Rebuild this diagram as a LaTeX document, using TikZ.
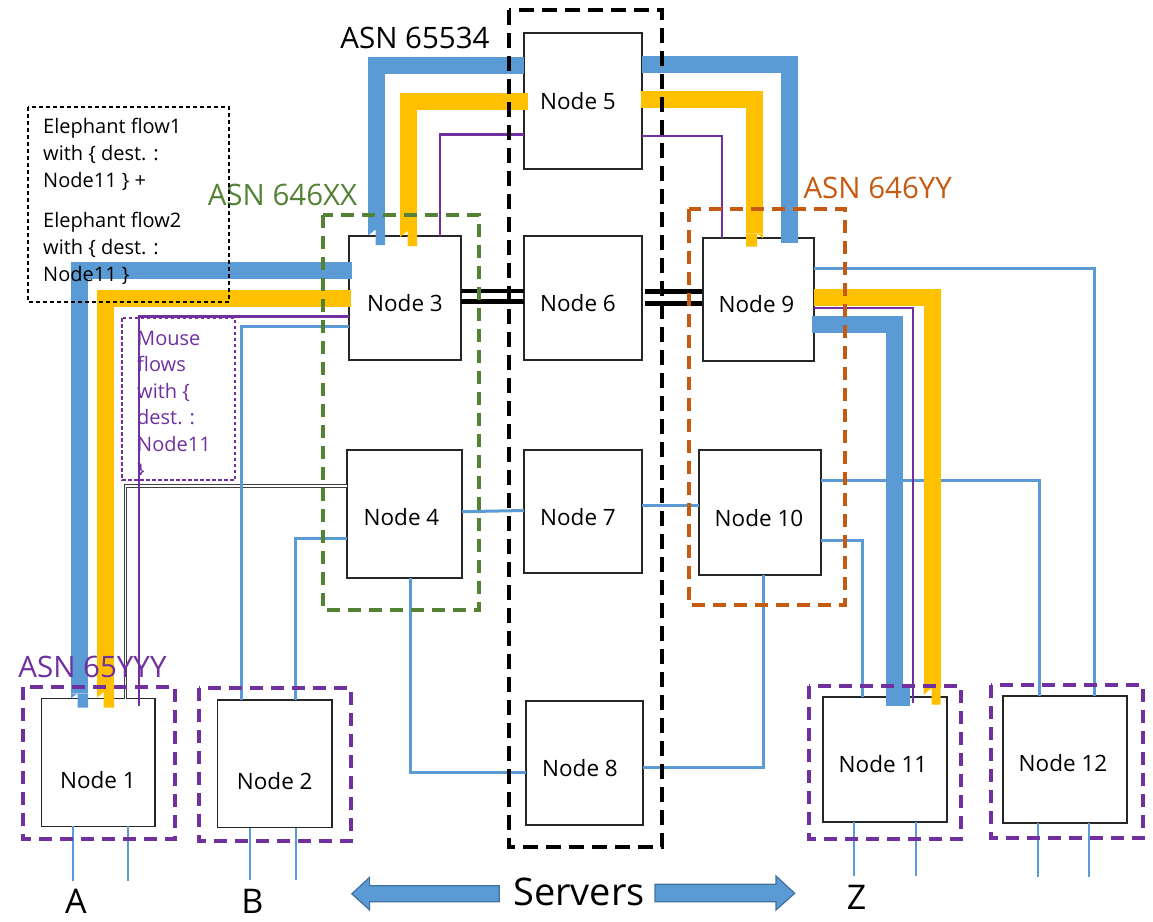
\documentclass[tikz,border=0pt]{standalone}
\usepackage{fontspec}
\setmainfont{Open Sans}
\definecolor{flowblue}{HTML}{5B9BD5}
\definecolor{flowgold}{HTML}{FFC000}
\definecolor{asnpurple}{HTML}{7030A0}
\definecolor{asngreen}{HTML}{548235}
\definecolor{asnorange}{HTML}{C55A11}
\definecolor{arrowedge}{HTML}{41719C}
\begin{document}
\begin{tikzpicture}[x=1pt,y=-1pt,
  box/.style={draw=black!85, line width=1.3pt, fill=white, inner sep=0pt, outer sep=0pt},
  lbl/.style={font=\fontsize{22.5}{27}\selectfont, inner sep=0pt},
  band/.style={line width=17pt, line cap=butt, line join=miter},
  thinblue/.style={draw=flowblue, line width=3pt},
  thinpurple/.style={draw=asnpurple, line width=2.2pt},
  stub/.style={draw=flowblue, line width=2pt},
  link/.style={draw=black, line width=4.8pt},
  grp/.style={line width=3.2pt, dash pattern=on 13pt off 8pt},
  asn/.style={font=\fontsize{29.5}{34}\selectfont, inner sep=0pt, anchor=base},
  note/.style={font=\fontsize{20}{27}\selectfont, inner sep=0pt, anchor=base west},
  big/.style={font=\fontsize{34}{40}\selectfont, inner sep=0pt, anchor=base},
  blockarrow/.style={fill=flowblue, draw=arrowedge, line width=1.2pt}
]
\useasboundingbox (0,0) rectangle (1153,921);

% ---------- network nodes ----------
\node[box, minimum width=113.2pt, minimum height=127.6pt, label={[lbl, xshift=-0.5pt, yshift=-17.5pt]center:Node 1}] (n1) at (98.4,762.5) {};
\node[box, minimum width=114.5pt, minimum height=127.7pt, label={[lbl, yshift=-17pt]center:Node 2}] (n2) at (274.75,763.85) {};
\node[box, minimum width=112pt, minimum height=124pt, label={[lbl, yshift=-5pt]center:Node 3}] (n3) at (405,298) {};
\node[box, minimum width=115pt, minimum height=128pt, label={[lbl, xshift=-3pt, yshift=-3pt]center:Node 4}] (n4) at (404.5,514) {};
\node[box, minimum width=118pt, minimum height=136pt, label={[lbl, xshift=-5pt]center:Node 5}] (n5) at (583,101) {};
\node[box, minimum width=118pt, minimum height=124pt, label={[lbl, xshift=-5pt, yshift=-5pt]center:Node 6}] (n6) at (583,298) {};
\node[box, minimum width=118pt, minimum height=123pt, label={[lbl, xshift=-5pt, yshift=-6pt]center:Node 7}] (n7) at (583,511.5) {};
\node[box, minimum width=117pt, minimum height=124pt, label={[lbl, xshift=-4.5pt, yshift=-5pt]center:Node 8}] (n8) at (584.5,763) {};
\node[box, minimum width=111pt, minimum height=123pt, label={[lbl, xshift=-2pt, yshift=-5pt]center:Node 9}] (n9) at (758.5,299.5) {};
\node[box, minimum width=122pt, minimum height=125pt, label={[lbl, xshift=-1pt, yshift=-5.5pt]center:Node 10}] (n10) at (760,512.5) {};
\node[box, minimum width=124pt, minimum height=125pt, label={[lbl, xshift=-2pt, yshift=-5pt]center:Node 11}] (n11) at (885,759.5) {};
\node[box, minimum width=124pt, minimum height=127pt, label={[lbl, xshift=-2pt, yshift=-4pt]center:Node 12}] (n12) at (1065,759.5) {};

% ---------- double black link Node 4 -> Node 1 ----------
\draw[draw=black!75, double=white, double distance=1.6pt, line width=0.8pt]
  (n4.west |- 0,486) -| (125.5,0 |- n1.north);

% ---------- thin blue links ----------
\draw[thinblue] (n3.west |- 0,326) -| (241.8,0 |- n2.north);
\draw[thinblue] (n4.west |- 0,538.3) -| (295,0 |- n2.north);
\draw[thinblue] (n4.east |- 0,511.7) -- (n7.west |- 0,510.5);
\draw[thinblue] (n7.east |- 0,505.3) -- (n10.west |- 0,505.3);
\draw[thinblue] (n4.south -| 410.7,0) |- (n8.west |- 0,772.7);
\draw[thinblue] (n10.south -| 763,0) |- (n8.east |- 0,767.7);
\draw[thinblue] (n10.east |- 0,540.7) -| (862,0 |- n11.north);
\draw[thinblue] (n10.east |- 0,480) -| (1039.5,0 |- n12.north);
\draw[thinblue] (n9.east |- 0,268.3) -| (1094,0 |- n12.north);

% server stubs
\draw[stub] (n1.south -| 73.2,0) -- ++(0,54.4);
\draw[stub] (n1.south -| 127.5,0) -- ++(0,54.4);
\draw[stub] (n2.south -| 250,0) -- ++(0,52.3);
\draw[stub] (n2.south -| 295.7,0) -- ++(0,52.3);
\draw[stub] (n11.south -| 854.3,0) -- ++(0,54);
\draw[stub] (n11.south -| 915.5,0) -- ++(0,54);
\draw[stub] (n12.south -| 1038,0) -- ++(0,54);
\draw[stub] (n12.south -| 1089.4,0) -- ++(0,54);

% ---------- mouse flows (purple) ----------
\draw[thinpurple] (n5.west |- 0,134.5) -| (440,0 |- n3.north);
\draw[thinpurple] (n5.east |- 0,136) -| (722,0 |- n9.north);
\draw[thinpurple, shorten >=-7.5pt] (n3.west |- 0,316.5) -| (139,0 |- n1.north);
\draw[thinpurple, shorten >=-6pt] (n9.east |- 0,308.3) -| (913,0 |- n11.north);

% ---------- elephant flows ----------
% flow 1 (blue)
\draw[band, flowblue, shorten >=6.5pt] (n5.west |- 0,65.8) -| (376.5,0 |- n3.north);
\fill[flowblue] (368,229.5) -- (368,235.5) -- (375.5,229.5) -- (375.5,245) -- (385,245) -- (385,229.5) -- cycle;
\draw[band, flowblue, shorten >=-4.5pt] (n5.east |- 0,64) -| (789,0 |- n9.north);
\draw[band, flowblue, shorten <=-3pt, shorten >=5.4pt] (n3.west |- 0,270.7) -| (79.5,0 |- n1.north);
\fill[flowblue] (71,693.3) -- (71,698.3) -- (77.5,693.3) -- (77.5,707.5) -- (88,707.5) -- (88,693.3) -- cycle;
\draw[band, flowblue, shorten <=-2pt, shorten >=9pt] (n9.east |- 0,324) -| (894,0 |- n11.north);
\fill[flowblue] (885.5,688) rectangle (910,706);
% flow 2 (gold)
\draw[band, flowgold, shorten <=-3.7pt, shorten >=5pt] (n5.west |- 0,101.3) -| (408.5,0 |- n3.north);
\fill[flowgold] (400,231) -- (400,237) -- (407.5,231) -- (407.5,246) -- (417,246) -- (417,231) -- cycle;
\draw[band, flowgold, shorten <=-1pt, shorten >=4.7pt] (n5.east |- 0,99.5) -| (754.5,0 |- n9.north);
\fill[flowgold] (746,233.3) -- (746,246.7) -- (757,246.7) -- (757,233.3) -- (763,238.3) -- (763,233.3) -- cycle;
\draw[band, flowgold, shorten <=-2pt, shorten >=6.7pt] (n3.west |- 0,298) -| (105.5,0 |- n1.north);
\fill[flowgold] (97,692) -- (97,697.7) -- (103.5,692) -- (103.5,707.5) -- (114,707.5) -- (114,692) -- cycle;
\draw[band, flowgold, shorten >=9pt] (n9.east |- 0,297) -| (932,0 |- n11.north);
\fill[flowgold] (923.5,688) -- (923.5,695) -- (931.5,688) -- (931.5,704.5) -- (940.5,704.5) -- (940.5,688) -- cycle;

% ---------- links between core and aggregation ----------
\draw[link] (n3.east |- 0,291) -- (n6.west |- 0,291);
\draw[link] (n3.east |- 0,301.5) -- (n6.west |- 0,301.5);
\draw[link] ([xshift=3pt]n6.east |- 0,291.8) -- ([xshift=-1.3pt]n9.west |- 0,291.8);
\draw[link] ([xshift=3pt]n6.east |- 0,303.2) -- ([xshift=-1.3pt]n9.west |- 0,303.2);

% ---------- AS groupings ----------
\draw[grp, black, line width=3.5pt, dash pattern=on 15pt off 8pt] (509,10) rectangle (662,847);
\draw[grp, asngreen] (323,215) rectangle (479,610);
\draw[grp, asnorange] (689,209) rectangle (845,605);
\draw[grp, asnpurple] (23,687) rectangle (175,839);
\draw[grp, asnpurple] (199,688) rectangle (351,841);
\draw[grp, asnpurple] (809,686) rectangle (961,839);
\draw[grp, asnpurple] (991,685) rectangle (1143,838);

\node[asn, text=black] (asnCore) at (415,48) {ASN 65534};
\node[asn, text=asngreen] (asnLeft) at (282.5,205) {ASN 646XX};
\node[asn, text=asnorange] (asnRight) at (877.7,198.3) {ASN 646YY};
\node[asn, text=asnpurple] (asnLeaf) at (92.5,677) {ASN 65YYY};

% ---------- flow descriptions ----------
\draw[black, line width=1.2pt, dash pattern=on 4pt off 3pt] (28,107) rectangle (229,302);
\node[note] (el1) at (43,133) {Elephant flow1};
\node[note] (el2) at (43,160) {with \{ dest. :};
\node[note] (el3) at (43,187) {Node11 \} +};
\node[note] (el4) at (43,227) {Elephant flow2};
\node[note] (el5) at (43,254) {with \{ dest. :};
\node[note] (el6) at (43,281) {Node11 \}};

\draw[asnpurple, line width=1.3pt, dash pattern=on 3.5pt off 2.5pt] (122,318) rectangle (235,480);
\begin{scope}
  \clip (122,318) rectangle (235,474);
  \node[note, text=asnpurple] (ms1) at (137,345) {Mouse};
  \node[note, text=asnpurple] (ms2) at (137,371.5) {flows};
  \node[note, text=asnpurple] (ms3) at (137,398) {with \{};
  \node[note, text=asnpurple] (ms4) at (137,424.5) {dest. :};
  \node[note, text=asnpurple] (ms5) at (137,451) {Node11};
  \node[note, text=asnpurple] (ms6) at (137,477.5) {\}};
\end{scope}

% ---------- servers ----------
\node[font=\fontsize{38}{44}\selectfont, inner sep=0pt, anchor=base] (srv) at (579,905) {Servers};
\filldraw[blockarrow] (351.8,893.8) -- (369.6,877.3) -- (369.6,885.7) -- (499.3,885.7) -- (499.3,901.7) -- (369.6,901.7) -- (369.6,910) -- cycle;
\filldraw[blockarrow] (794.7,893.3) -- (776,876) -- (776,884.3) -- (655,884.3) -- (655,901.7) -- (776,901.7) -- (776,910) -- cycle;
\node[big] (lblA) at (75.8,913) {A};
\node[big] (lblB) at (252.5,913) {B};
\node[big] (lblZ) at (856.5,909) {Z};
\end{tikzpicture}
\end{document}
